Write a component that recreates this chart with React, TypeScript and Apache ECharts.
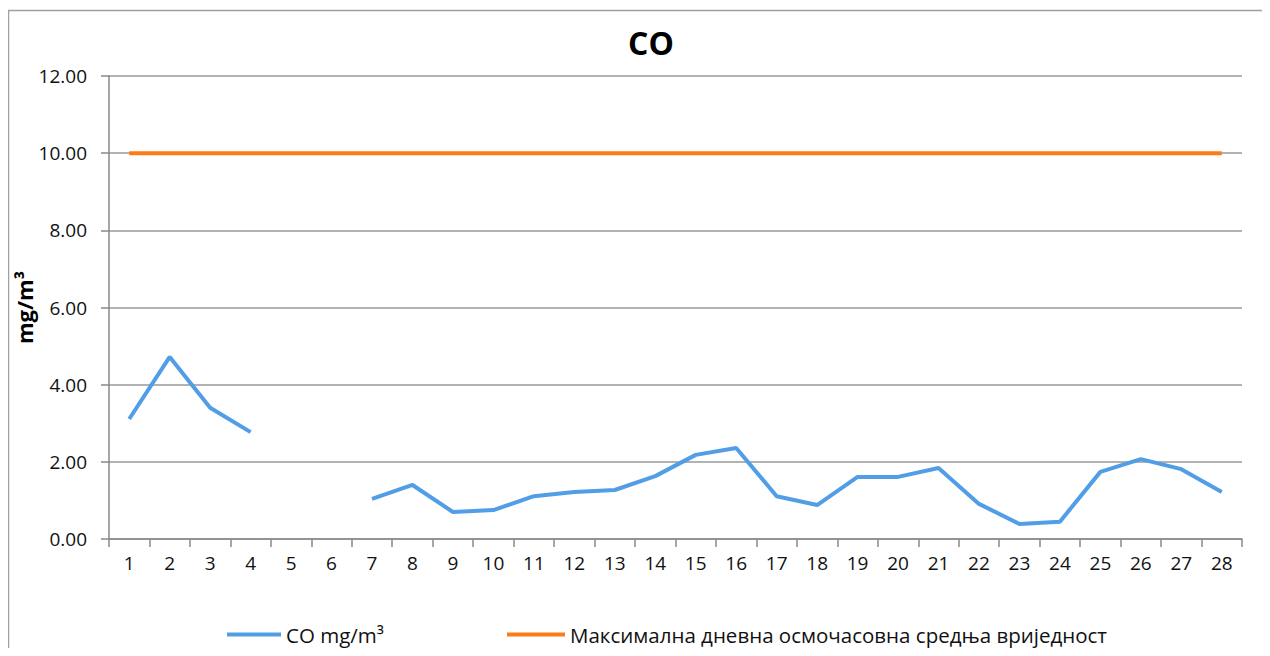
import React, { useEffect, useRef } from "react";
import * as echarts from "echarts";

const categories = ["1","2","3","4","5","6","7","8","9","10","11","12","13","14","15","16","17","18","19","20","21","22","23","24","25","26","27","28"];
const coValues: (number | null)[] = [3.11, 4.72, 3.40, 2.77, null, null, 1.04, 1.40, 0.70, 0.75, 1.11, 1.22, 1.27, 1.63, 2.18, 2.36, 1.11, 0.88, 1.61, 1.61, 1.84, 0.91, 0.39, 0.45, 1.74, 2.07, 1.81, 1.22];
const limitValues: number[] = categories.map(() => 10);
const seriesNames = ["CO mg/m³", "Максимална дневна осмочасовна средња вриједност"];

export default function App() {
  const ref = useRef<HTMLDivElement>(null);
  useEffect(() => {
    if (!ref.current) return;
    const chart = echarts.init(ref.current, null, { renderer: "svg" });
    const font = "'Open Sans', 'Noto Sans', sans-serif";
    const legendText = { fontFamily: font, fontSize: 20.5, color: "#111" };
    chart.setOption({
      animation: false,
      backgroundColor: "#ffffff",
      title: {
        text: "CO",
        left: 638,
        top: 13,
        textAlign: "center",
        textStyle: { fontFamily: font, fontSize: 32, fontWeight: "bold", color: "#000" },
      },
      graphic: [
        {
          type: "rect",
          shape: { x: 0.5, y: 2.5, width: 1400, height: 800 },
          style: { fill: "none", stroke: "#a0a0a0", lineWidth: 1.5 },
          silent: true,
        },
      ],
      legend: [
        {
          top: 611,
          left: 214,
          itemWidth: 54,
          itemHeight: 4,
          itemGap: 4,
          icon: "rect",
          textStyle: legendText,
          data: [seriesNames[0]],
        },
        {
          top: 611,
          left: 494,
          itemWidth: 58,
          itemHeight: 4,
          icon: "rect",
          textStyle: legendText,
          data: [seriesNames[1]],
        },
      ],
      grid: { left: 101, right: 20, top: 68, bottom: 109, containLabel: false, outerBoundsMode: "none" },
      xAxis: {
        type: "category",
        data: categories,
        boundaryGap: true,
        axisLine: { lineStyle: { color: "#888", width: 1.5 } },
        axisTick: { show: true, length: 8, lineStyle: { color: "#888", width: 1.5 } },
        axisLabel: { fontFamily: font, fontSize: 19, color: "#111", margin: 14 },
      },
      yAxis: {
        type: "value",
        min: 0,
        max: 12,
        interval: 2,
        name: "mg/m³",
        nameLocation: "middle",
        nameGap: 74,
        nameRotate: 90,
        nameMoveOverlap: false,
        nameTextStyle: { fontFamily: font, fontSize: 22, fontWeight: "bold", color: "#000" },
        axisLine: { show: true, lineStyle: { color: "#888", width: 1.5 } },
        axisTick: { show: true, length: 8, lineStyle: { color: "#888", width: 1.5 } },
        splitLine: { lineStyle: { color: "#999", width: 1.5 } },
        axisLabel: {
          fontFamily: font,
          fontSize: 19,
          color: "#111",
          margin: 22,
          formatter: (v: number) => v.toFixed(2),
        },
      },
      series: [
        {
          name: seriesNames[0],
          type: "line",
          data: coValues,
          connectNulls: false,
          showSymbol: false,
          symbol: "none",
          lineStyle: { color: "#529ee6", width: 4 },
          itemStyle: { color: "#529ee6" },
        },
        {
          name: seriesNames[1],
          type: "line",
          data: limitValues,
          showSymbol: false,
          symbol: "none",
          lineStyle: { color: "#fa7d1a", width: 4 },
          itemStyle: { color: "#fa7d1a" },
        },
      ],
    });
    return () => chart.dispose();
  }, []);
  return <div ref={ref} style={{ width: 1254, height: 640 }} />;
}
